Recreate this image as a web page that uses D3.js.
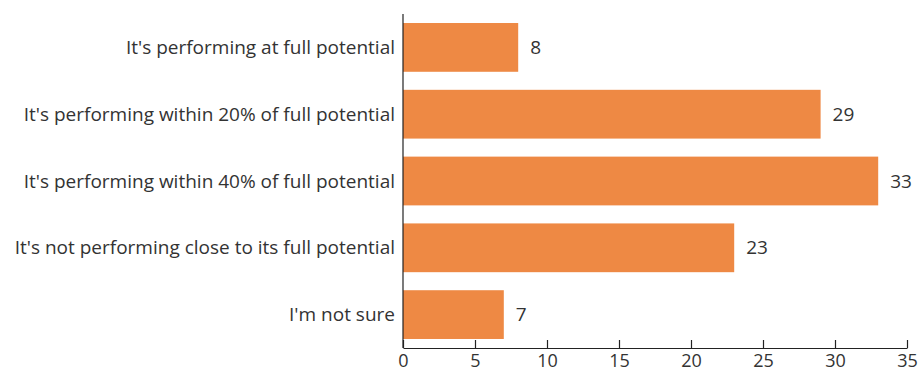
<!DOCTYPE html>
<html>
<head>
<meta charset="utf-8">
<script src="https://cdn.jsdelivr.net/npm/d3@7"></script>
<style>
  body { margin: 0; background: #fff; }
  svg { display: block; }
  text { font-family: "Open Sans", sans-serif; fill: #333; }
</style>
</head>
<body>
<svg id="chart" width="918" height="372"></svg>
<script>
const categories = [
  "It's performing at full potential",
  "It's performing within 20% of full potential",
  "It's performing within 40% of full potential",
  "It's not performing close to its full potential",
  "I'm not sure"
];
const values = [8, 29, 33, 23, 7];
const tickValues = [0, 5, 10, 15, 20, 25, 30, 35];

(function () {
const svg = d3.select("#chart");
const mLeft = 403, mRight = 907, mTop = 14, mBottom = 348;
const fs = "19px";

const x = d3.scaleLinear().domain([0, 35]).range([mLeft, mRight]);
const y = d3.scaleBand().domain(categories).range([mTop, mBottom])
  .paddingInner(0.27).paddingOuter(0.135);

const data = categories.map((c, i) => ({ c, v: values[i] }));

svg.selectAll("rect.bar").data(data).join("rect")
  .attr("class", "bar")
  .attr("x", x(0))
  .attr("y", d => y(d.c))
  .attr("width", d => x(d.v) - x(0))
  .attr("height", y.bandwidth())
  .attr("fill", "#EE8944");

svg.selectAll("text.val").data(data).join("text")
  .attr("class", "val")
  .attr("x", d => x(d.v) + 12)
  .attr("y", d => y(d.c) + y.bandwidth() / 2)
  .attr("dy", "0.35em")
  .style("font-size", fs)
  .text(d => d.v);

svg.selectAll("text.cat").data(data).join("text")
  .attr("class", "cat")
  .attr("x", mLeft - 8)
  .attr("y", d => y(d.c) + y.bandwidth() / 2)
  .attr("dy", "0.35em")
  .attr("text-anchor", "end")
  .style("font-size", fs)
  .text(d => d.c);

svg.append("line")
  .attr("x1", mLeft).attr("x2", mLeft)
  .attr("y1", mTop).attr("y2", mBottom)
  .attr("stroke", "#222").attr("stroke-width", 1.2);

const xAxis = d3.axisBottom(x).tickValues(tickValues).tickSize(8).tickSizeOuter(0).tickPadding(10);
const gx = svg.append("g").attr("transform", `translate(0,${mBottom})`).call(xAxis);
gx.select(".domain").attr("stroke", "#222").attr("stroke-width", 1.2);
gx.selectAll(".tick line").attr("stroke", "#222").attr("stroke-width", 1.2).attr("y1", -8).attr("y2", 0);
gx.selectAll(".tick text").style("font-size", "18px").style("font-family", "'Open Sans', sans-serif")
  .attr("fill", "#333").attr("dy", null).attr("y", 18.5);
})();
</script>
</body>
</html>
